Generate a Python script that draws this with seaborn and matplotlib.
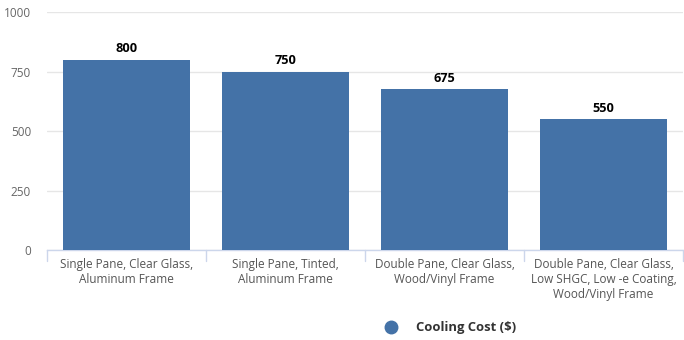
import matplotlib
matplotlib.use("Agg")
import matplotlib.pyplot as plt
from matplotlib.lines import Line2D
import seaborn as sns
import pandas as pd

categories = [
    "Single Pane, Clear Glass,\nAluminum Frame",
    "Single Pane, Tinted,\nAluminum Frame",
    "Double Pane, Clear Glass,\nWood/Vinyl Frame",
    "Double Pane, Clear Glass,\nLow SHGC, Low -e Coating,\nWood/Vinyl Frame",
]
cooling_cost = [800, 750, 675, 550]
series_name = "Cooling Cost ($)"
y_ticks = [0, 250, 500, 750, 1000]

sns.set_theme(style="white")
plt.rcParams["font.family"] = ["Open Sans", "DejaVu Sans"]

df = pd.DataFrame({"category": categories, "value": cooling_cost})

fig = plt.figure(figsize=(6.84, 3.40), dpi=100)
ax = fig.add_axes([47 / 684, 1 - 250 / 340, 636 / 684, 238 / 340])

bar_color = "#4472a7"
sns.barplot(data=df, x="category", y="value", color=bar_color, width=0.8,
            saturation=1, ax=ax, zorder=3, edgecolor="none")

ax.set_ylim(0, 1000)
ax.set_xlim(-0.5, len(categories) - 0.5)
ax.set_yticks(y_ticks)
ax.set_yticklabels([str(t) for t in y_ticks], color="#666666", fontsize=8.5)
ax.yaxis.grid(True, color="#e6e6e6", linewidth=1, zorder=0)
ax.tick_params(axis="y", length=0, pad=11.5)

# category boundary ticks along the x axis
ax.set_xticks(range(len(categories)))
ax.set_xticklabels(categories, color="#555555", fontsize=8.5, linespacing=1.2)
ax.tick_params(axis="x", length=0, pad=6)
for b in [i - 0.5 for i in range(len(categories) + 1)]:
    ax.plot([b, b], [0, -0.045], transform=ax.get_xaxis_transform(),
            color="#ccd6eb", linewidth=1, clip_on=False, zorder=4)

for side in ["top", "right", "left"]:
    ax.spines[side].set_visible(False)
ax.spines["bottom"].set_color("#ccd6eb")
ax.spines["bottom"].set_linewidth(1)
ax.set_xlabel("")
ax.set_ylabel("")

for i, v in enumerate(cooling_cost):
    ax.annotate(str(v), (i, v), xytext=(0, 3), textcoords="offset points",
                ha="center", va="bottom", fontsize=9.2, fontweight="bold",
                color="#000000")

handle = Line2D([], [], marker="o", linestyle="none", markersize=9,
                markerfacecolor=bar_color, markeredgecolor=bar_color)
fig.legend([handle], [series_name], loc="center", bbox_to_anchor=(447 / 684, 1 - 328 / 340),
           frameon=False, prop={"weight": "bold", "size": 9.4}, handletextpad=0.9,
           labelcolor="#333333")

fig.savefig("out.png", dpi=100)
